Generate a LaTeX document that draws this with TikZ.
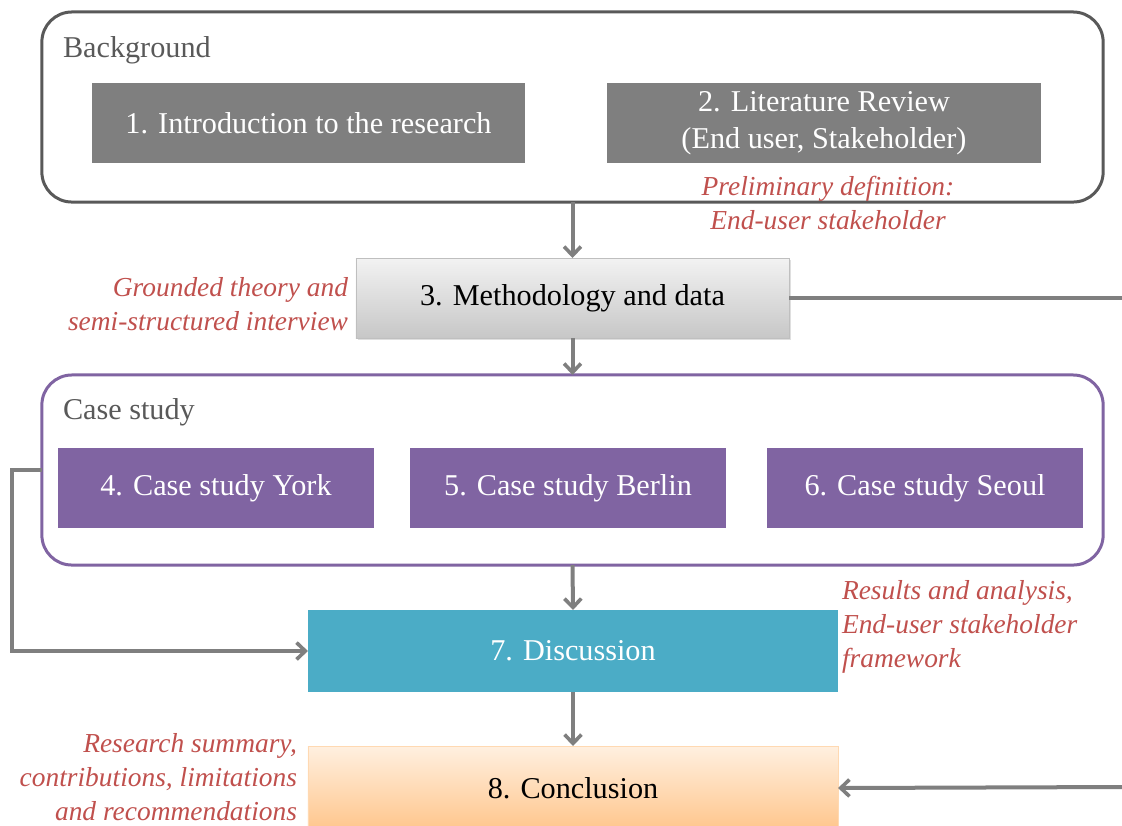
\documentclass[tikz,border=0pt]{standalone}
\usepackage{fontspec}
\setmainfont{Liberation Serif}
\usetikzlibrary{arrows.meta,shadows}
\definecolor{boxgray}{HTML}{7F7F7F}
\definecolor{framegray}{HTML}{595959}
\definecolor{casepurple}{HTML}{8064A2}
\definecolor{discteal}{HTML}{4BACC6}
\definecolor{notered}{HTML}{C0504D}
\tikzset{inner sep=0pt, outer sep=0pt}

\begin{document}
\begin{tikzpicture}[
            x=0.025cm, y=-0.025cm,
            frame/.style={draw, line width=0.075cm, rounded corners=0.75cm,
                minimum width=26.525cm, minimum height=4.75cm},
            frametitle/.style={anchor=west, text=framegray, font=\fontsize{21.5}{26}\selectfont},
            chapter/.style={minimum width=10.825cm, minimum height=2cm, align=center,
                font=\fontsize{21.5}{26.3}\selectfont},
            casebox/.style={chapter, fill=casepurple, text=white, minimum width=7.9cm},
            note/.style={text=notered, font=\fontsize{19.5}{24}\selectfont\itshape},
            flow/.style={draw=boxgray, line width=0.1cm},
            arr/.style={flow, -{Straight Barb[length=0.22cm, width=0.42cm, line width=0.09cm]}}
            ]
            \useasboundingbox (0,0) rectangle (1122,825);
            % background
            \node[frame, draw=framegray] (bg) at (572.5,107) {};
            \node[frametitle] (bgtitle) at (63,50) {Background};
            \node[chapter, fill=boxgray, text=white] (intro) at (308.5,123) {1. Introduction to the research};
            \node[chapter, fill=boxgray, text=white, minimum width=10.85cm] (lit) at (824,123)
                {2. Literature Review\\(End user, Stakeholder)};
            \node[note, align=center] (prelim) at (828,203) {Preliminary definition:\\End-user stakeholder};
            % methodology
            \node[chapter, draw=black!25, line width=0.4pt, top color=black!5, bottom color=black!22,
                drop shadow={opacity=0.25, shadow xshift=0.06cm, shadow yshift=-0.06cm}] (method) at (572.5,298)
                {3. Methodology and data};
            \node[note, anchor=east, align=right] (grounded) at (348,304)
                {Grounded theory and\\semi-structured interview};
            % case study
            \node[frame, draw=casepurple] (case) at (572.5,470) {};
            \node[frametitle] (casetitle) at (63,412) {Case study};
            \node[casebox] (york) at (216,488) {4. Case study York};
            \node[casebox] (berlin) at (568,488) {5. Case study Berlin};
            \node[casebox] (seoul) at (925,488) {6. Case study Seoul};
            % discussion and conclusion
            \node[chapter, fill=discteal, text=white, minimum width=13.25cm, minimum height=2.05cm] (disc) at (573,651)
                {7. Discussion};
            \node[note, anchor=west, align=left] (results) at (842,627)
                {Results and analysis,\\End-user stakeholder\\framework};
            \node[chapter, draw=orange!30, line width=0.4pt, top color=orange!12, bottom color=orange!45,
                minimum width=13.25cm, minimum height=2.1cm] (concl) at (573,788) {8. Conclusion};
            \node[note, anchor=east, align=right] (summary) at (297,777)
                {Research summary,\\contributions, limitations\\and recommendations};
            \coordinate (outA) at (1122,298);
            \coordinate (outB) at (1122,787);
            % connectors
            \draw[arr] (bg.south) -- (method.north);
            \draw[flow] (method.east) -- (outA);
            \draw[arr] (method.south) -- (case.north);
            \draw[arr] (case.west) -- ++(-30,0) |- (disc.west);
            \draw[arr] (case.south) -- (disc.north);
            \draw[arr] (disc.south) -- (concl.north);
            \draw[arr] (outB) -- (concl.east);
        \end{tikzpicture}
\end{document}
